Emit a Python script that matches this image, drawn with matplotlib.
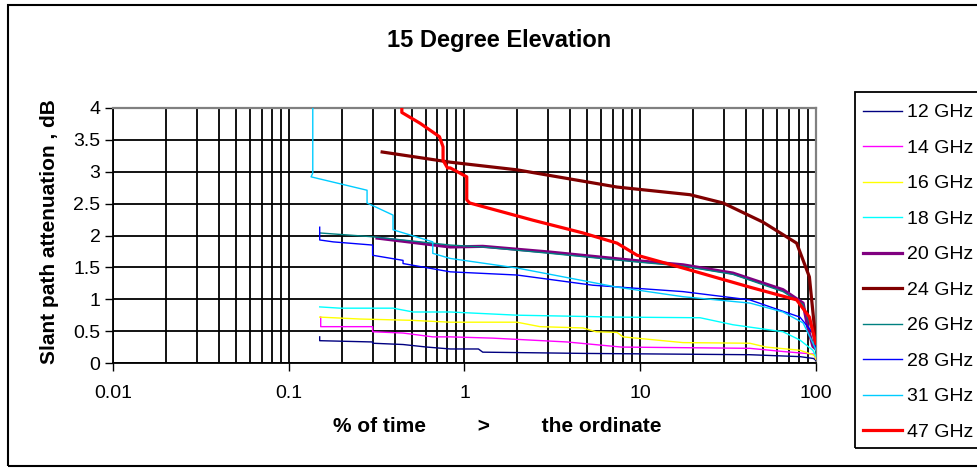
import numpy as np
import matplotlib
matplotlib.use('Agg')
import matplotlib.pyplot as plt
from matplotlib.patches import Rectangle
from matplotlib.ticker import LogLocator, FuncFormatter, MultipleLocator, NullFormatter

plt.rcParams['font.family'] = ['Liberation Sans', 'DejaVu Sans']

# Series: % of time vs attenuation (dB)
labels = ['12 GHz', '14 GHz', '16 GHz', '18 GHz', '20 GHz',
          '24 GHz', '26 GHz', '28 GHz', '31 GHz', '47 GHz']
colors = ['#000080', '#FF00FF', '#FFFF00', '#00FFFF', '#800080',
          '#800000', '#008080', '#0000FF', '#00CCFF', '#FF0000']
widths = [1, 1, 1, 1, 2.3, 2.3, 1, 1, 1, 2.3]

x12 = [0.15, 0.15, 0.30, 0.30, 0.447, 0.61, 0.83, 1.2, 1.27, 5, 42, 81, 97, 100]
y12 = [0.41, 0.35, 0.33, 0.31, 0.29, 0.25, 0.22, 0.22, 0.17, 0.15, 0.13, 0.10, 0.07, 0.04]

x14 = [0.152, 0.152, 0.30, 0.30, 0.447, 0.66, 0.83, 1.45, 3.83, 7.8, 42, 65, 97, 100]
y14 = [0.72, 0.57, 0.57, 0.49, 0.47, 0.41, 0.41, 0.39, 0.33, 0.25, 0.23, 0.18, 0.14, 0.06]

x16 = [0.15, 0.254, 0.49, 0.83, 1.99, 2.69, 4.72, 5.6, 7.38, 7.98, 17.5, 42, 52, 81, 98, 100]
y16 = [0.72, 0.69, 0.67, 0.64, 0.64, 0.57, 0.55, 0.49, 0.48, 0.41, 0.32, 0.31, 0.25, 0.20, 0.12, 0.06]

x18 = [0.15, 0.196, 0.392, 0.51, 0.83, 1.99, 7.38, 21.9, 33.7, 64.9, 81, 96, 100]
y18 = [0.88, 0.86, 0.86, 0.80, 0.80, 0.75, 0.72, 0.71, 0.60, 0.49, 0.36, 0.20, 0.10]

x20 = [0.318, 0.83, 1.27, 3.06, 9.1, 17.5, 33.7, 64.9, 84.4, 89.6, 96.1, 100]
y20 = [1.96, 1.82, 1.83, 1.74, 1.61, 1.54, 1.41, 1.15, 0.94, 0.57, 0.26, 0.22]

x24 = [0.34, 0.83, 1.99, 7.38, 19.2, 29.6, 49.9, 77.6, 91.7, 98.7, 100]
y24 = [3.31, 3.15, 3.03, 2.76, 2.64, 2.51, 2.21, 1.88, 1.35, 0.47, 0.30]

x26 = [0.15, 0.30, 0.83, 1.27, 3.06, 9.1, 17.5, 33.7, 64.9, 84.4, 95, 100]
y26 = [2.04, 1.98, 1.85, 1.82, 1.72, 1.59, 1.52, 1.39, 1.12, 0.92, 0.50, 0.16]

x28 = [0.15, 0.15, 0.179, 0.30, 0.30, 0.447, 0.447, 0.83, 1.99, 5.38, 17.5, 42, 81, 96, 100]
y28 = [2.13, 1.93, 1.90, 1.85, 1.69, 1.61, 1.56, 1.43, 1.38, 1.22, 1.12, 0.99, 0.72, 0.47, 0.25]

x31 = [0.137, 0.137, 0.134, 0.279, 0.279, 0.392, 0.392, 0.66, 0.66, 0.83,
       1.99, 7.38, 17.5, 42.1, 64.9, 84.4, 96.1, 100]
y31 = [4.0, 2.98, 2.92, 2.71, 2.51, 2.32, 2.09, 1.90, 1.72, 1.64,
       1.49, 1.19, 1.04, 0.94, 0.80, 0.63, 0.31, 0.20]

x47 = [0.44, 0.44, 0.559, 0.72, 0.755, 0.755, 0.80, 0.83, 1.03, 1.03, 1.07,
       2.45, 4.72, 7.38, 9.6, 17.5, 42, 77.6, 91.7, 98.7, 100]
y47 = [4.0, 3.93, 3.76, 3.55, 3.39, 3.18, 3.06, 3.06, 2.92, 2.56, 2.51,
       2.24, 2.04, 1.88, 1.69, 1.49, 1.19, 0.99, 0.72, 0.36, 0.31]

xs = [x12, x14, x16, x18, x20, x24, x26, x28, x31, x47]
ys = [y12, y14, y16, y18, y20, y24, y26, y28, y31, y47]

W, H = 978, 469
fig = plt.figure(figsize=(W / 100, H / 100), dpi=100)
ax = fig.add_axes([113 / W, 1 - 363 / H, 703 / W, 255 / H])

lines = []
for x, y, c, lw, lab in zip(xs, ys, colors, widths, labels):
    ln, = ax.plot(x, y, color=c, lw=lw, label=lab, zorder=3)
    lines.append(ln)

ax.set_xscale('log')
ax.set_xlim(0.01, 100)
ax.set_ylim(0, 4)
ax.xaxis.set_major_locator(LogLocator(base=10))
ax.xaxis.set_minor_locator(LogLocator(base=10, subs=np.arange(2, 10)))
ax.xaxis.set_major_formatter(FuncFormatter(lambda v, p: '%g' % v))
ax.xaxis.set_minor_formatter(NullFormatter())
ax.yaxis.set_major_locator(MultipleLocator(0.5))
ax.yaxis.set_major_formatter(FuncFormatter(lambda v, p: '%g' % v))

ax.grid(True, which='both', axis='x', color='black', lw=1.3)
ax.grid(True, which='major', axis='y', color='black', lw=1.3)
ax.tick_params(axis='both', which='major', direction='out', length=6,
               width=1, labelsize=14, color='black')
ax.tick_params(axis='y', pad=3)
ax.tick_params(axis='x', pad=10)
ax.tick_params(axis='x', which='minor', length=0)
for s in ['top', 'right']:
    ax.spines[s].set_color('#808080')
    ax.spines[s].set_linewidth(1.6)
for s in ['left', 'bottom']:
    ax.spines[s].set_color('black')
    ax.spines[s].set_linewidth(1.3)

# titles (centred on the chart area, which runs past the right edge)
fig.text(499 / W, 1 - 40 / H, '15 Degree Elevation', fontsize=17, fontweight='bold',
         ha='center', va='center')
fig.text(497 / W, 1 - 426 / H, '% of time         >         the ordinate',
         fontsize=15, fontweight='bold', ha='center', va='center')
fig.text(50 / W, 1 - 232 / H, 'Slant path attenuation , dB', fontsize=15,
         fontweight='bold', rotation=90, ha='center', va='center')

# legend box is cut off by the right edge of the picture
fig.patches.append(Rectangle((855 / W, 1 - 448 / H), 0.3, 356 / H, transform=fig.transFigure,
                             fill=False, edgecolor='black', lw=1.3))
fig.legend(handles=lines, loc='upper left', bbox_to_anchor=(857 / W, 1 - 98 / H),
           bbox_transform=fig.transFigure, fontsize=14, frameon=False,
           handlelength=2.0, labelspacing=0.92, borderpad=0.3, borderaxespad=0,
           handletextpad=0.26)

fig.patches.append(Rectangle((8 / W, 3 / H), 1.5, 1 - 8 / H, transform=fig.transFigure,
                             fill=False, edgecolor='black', lw=1.5))

fig.savefig('out.png', dpi=100)
